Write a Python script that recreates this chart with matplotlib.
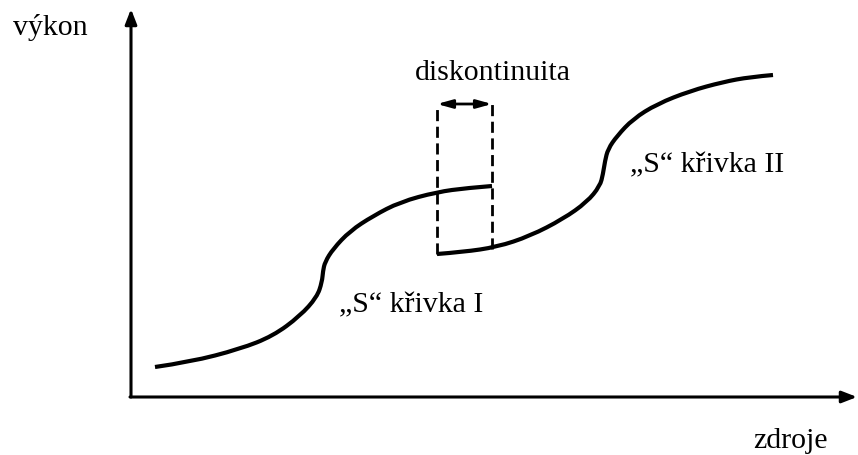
import matplotlib
matplotlib.use("Agg")
import matplotlib.pyplot as plt
from matplotlib.path import Path
from matplotlib.patches import PathPatch

# Conceptual data (x = zdroje, y = výkon), origin at the axes corner
curve1_x = [24, 59, 109, 142, 169, 186, 191, 192, 194, 202, 219, 242, 269, 306, 336, 361]
curve1_y = [30, 35, 48, 61, 81, 100, 115, 126, 135, 148, 166, 181, 195, 205, 209, 211]

curve2_x = [306, 332, 366, 399, 432, 456, 469, 472, 474, 477, 486, 502, 526, 559, 592, 619, 642]
curve2_y = [143, 145, 150, 161, 178, 195, 211, 223, 236, 248, 261, 278, 293, 306, 315, 320, 322]

gap_left = 306
gap_right = 361
gap_top = 293

labels = {
    "ylabel": "výkon",
    "xlabel": "zdroje",
    "gap": "diskontinuita",
    "s1": "\u201eS\u201c křivka I",
    "s2": "\u201eS\u201c křivka II",
}

plt.rcParams['font.family'] = ['Liberation Serif', 'DejaVu Serif']

fig = plt.figure(figsize=(8.58, 4.56), dpi=100)
ax = fig.add_axes([0, 0, 1, 1])
ax.set_xlim(-131, 727)
ax.set_ylim(-58, 398)
ax.axis('off')


def smooth_curve(ax, xs, ys, **kw):
    """Draw a smooth quadratic-spline path through the given points."""
    pts = list(zip(xs, ys))
    verts = [pts[0]]
    codes = [Path.MOVETO]
    for i in range(1, len(pts) - 1):
        mid = ((pts[i][0] + pts[i + 1][0]) / 2, (pts[i][1] + pts[i + 1][1]) / 2)
        if i == len(pts) - 2:
            mid = pts[i + 1]
        verts += [pts[i], mid]
        codes += [Path.CURVE3, Path.CURVE3]
    patch = PathPatch(Path(verts, codes), fill=False, **kw)
    ax.add_patch(patch)


# axes arrows
ax.annotate('', xy=(0, 388), xytext=(0, 0),
            arrowprops=dict(arrowstyle='-|>,head_length=0.9,head_width=0.35', lw=2.2, color='black',
                            shrinkA=0, shrinkB=0))
ax.annotate('', xy=(726, 0), xytext=(-1, 0),
            arrowprops=dict(arrowstyle='-|>,head_length=0.9,head_width=0.35', lw=2.2, color='black',
                            shrinkA=0, shrinkB=0))

# curves
smooth_curve(ax, curve1_x, curve1_y, edgecolor='black', lw=3, capstyle='butt', joinstyle='round')
smooth_curve(ax, curve2_x, curve2_y, edgecolor='black', lw=3, capstyle='butt', joinstyle='round')

# discontinuity box
ax.plot([gap_left, gap_left], [curve2_y[0], gap_top], color='black', lw=2, ls=(0, (4, 2)))
ax.plot([gap_right, gap_right], [curve2_y[2] - 2, gap_top], color='black', lw=2, ls=(0, (4, 2)))
ax.annotate('', xy=(gap_left, gap_top), xytext=(gap_right, gap_top),
            arrowprops=dict(arrowstyle='<|-|>,head_length=0.9,head_width=0.25', lw=2, color='black',
                            shrinkA=0, shrinkB=0))

fs = 21.5
ax.text(-118, 363, labels["ylabel"], fontsize=fs, ha='left', va='baseline')
ax.text(622, -50, labels["xlabel"], fontsize=fs, ha='left', va='baseline')
ax.text((gap_left + gap_right) / 2 + 149 - 121, 318, labels["gap"], fontsize=fs, ha='center', va='baseline')
ax.text(208, 86, labels["s1"], fontsize=fs, ha='left', va='baseline')
ax.text(499, 226, labels["s2"], fontsize=fs, ha='left', va='baseline')

fig.savefig('out.png', dpi=100)
